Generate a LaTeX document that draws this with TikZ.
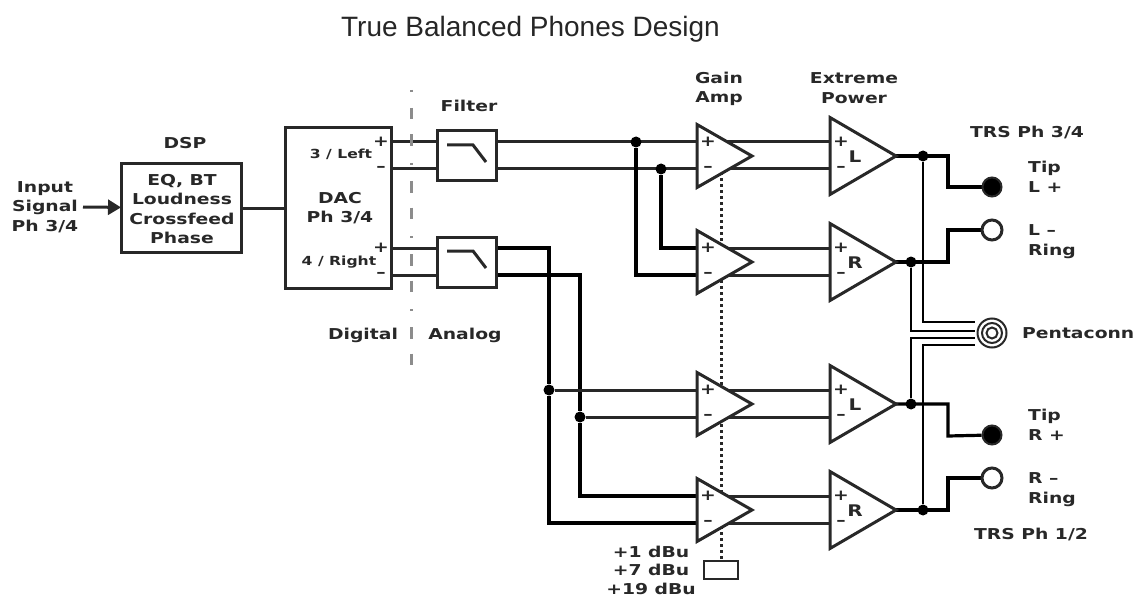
\documentclass[tikz,border=0pt]{standalone}
\usepackage{fontspec}
\setmainfont{DejaVu Sans}[FakeStretch=1.25]
\newfontfamily\titlefont{Liberation Sans}
\usetikzlibrary{shapes.geometric, arrows.meta, positioning, calc, backgrounds}
\definecolor{inkgray}{RGB}{40,40,40}
\definecolor{splitgray}{RGB}{140,140,140}

\begin{document}
\begin{tikzpicture}[
    x=1pt, y=-1pt,
    boxed/.style={draw=inkgray, line width=3pt, fill=white, inner sep=0pt, outer sep=0pt},
    dspbox/.style={boxed, minimum width=120pt, minimum height=88pt},
    dacbox/.style={boxed, minimum width=106pt, minimum height=160pt},
    filt/.style={boxed, minimum width=59pt, minimum height=50pt},
    gainbox/.style={boxed, line width=2.5pt, minimum width=34pt, minimum height=18pt},
    amp/.style={isosceles triangle, isosceles triangle stretches, shape border rotate=0, anchor=lower side,
      draw=inkgray, line width=3pt, fill=white, inner sep=0pt, outer sep=0pt},
    gainamp/.style={amp, minimum height=55pt, minimum width=63pt},
    poweramp/.style={amp, minimum height=66pt, minimum width=77pt},
    wire/.style={line width=3pt, draw=inkgray},
    heavy/.style={line width=3.2pt, draw=black},
    pent/.style={line width=2.5pt, draw=black},
    dotj/.style={circle, fill=black, inner sep=0pt, minimum size=11pt},
    tipj/.style={circle, fill=black, draw=inkgray, line width=2pt, inner sep=0pt, minimum size=19pt},
    ringj/.style={circle, fill=white, draw=inkgray, line width=3pt, inner sep=0pt, minimum size=20pt},
    cring/.style={circle, draw=inkgray, line width=2pt, inner sep=0pt},
    lbl/.style={font=\fontsize{15}{19.5}\selectfont\bfseries, text=inkgray, align=center, inner sep=0pt},
    lblsmall/.style={font=\fontsize{12.5}{13}\selectfont\bfseries, text=inkgray, inner sep=0pt},
    sign/.style={font=\fontsize{15}{15}\selectfont\bfseries, text=inkgray, inner sep=0pt},
  ]
  \useasboundingbox (0,0) rectangle (1134,596);
  \node[font=\fontsize{28}{32}\selectfont\titlefont, text=black!85] (title) at (530.5,29) {True Balanced Phones Design};
  % left blocks
  \node[dspbox] (dsp) at (181,208) {};
  \node[dacbox] (dac) at (338,208) {};
  \node[filt] (f1) at (466.5,156) {};
  \node[filt] (f2) at (466.5,262) {};
  \node[lbl] (lin) at (45,207) {Input\\Signal\\Ph 3/4};
  \node[lbl] (ldsp) at (182,209) {EQ, BT\\Loudness\\Crossfeed\\Phase};
  \node[lbl] (tdsp) at (185,143) {DSP};
  \node[lbl] (ldac) at (340,208) {DAC\\Ph 3/4};
  \node[lbl] (tfilt) at (469,106) {Filter};
  \node[lblsmall] (l3) at (341,154) {3 / Left};
  \node[lblsmall] (l4) at (339,262) {4 / Right};
  \foreach \nm/\yy/\tx in {sa/142/+,sb/169/–,sc/248/+,sd/275/–}
    \node[sign] (\nm) at (381,\yy) {\tx};
  \node[lbl] (ldig) at (363,335) {Digital};
  \node[lbl] (lana) at (465,335) {Analog};
  % amps
  \foreach \nm/\cy/\ch in {a/156/L,b/262/R,c/404/L,d/510/R}{
    \node[gainamp] (g\nm) at (697,\cy) {};
    \node[poweramp] (p\nm) at (830,\cy) {};
    \coordinate (g\nm p) at (697,\cy-14);
    \coordinate (g\nm m) at (697,\cy+13);
    \coordinate (p\nm p) at (830,\cy-14);
    \coordinate (p\nm m) at (830,\cy+13);
    \node[sign] (gs\nm p) at (708,\cy-14) {+};
    \node[sign] (gs\nm m) at (708,\cy+13) {–};
    \node[sign] (ps\nm p) at (841,\cy-14) {+};
    \node[sign] (ps\nm m) at (841,\cy+13) {–};
    \node[lbl, font=\fontsize{16}{16}\selectfont\bfseries] (ch\nm) at (855,\cy+1) {\ch};
  }
  \node[lbl] (tgain) at (719,89) {Gain\\Amp};
  \node[lbl] (tpow) at (854,88) {Extreme\\Power};
  % outputs
  \node[tipj] (tipl) at (992,187) {};
  \node[ringj] (ringl) at (992,230) {};
  \node[tipj] (tipr) at (992,435) {};
  \node[ringj] (ringr) at (992,478) {};
  \foreach \nm/\sz in {pca/29,pcb/20,pcc/11}
    \node[cring, minimum size=\sz pt] (\nm) at (992,333) {};
  \node[lbl] (ttop) at (1027,132) {TRS Ph 3/4};
  \node[lbl] (tbot) at (1031,534) {TRS Ph 1/2};
  \node[lbl, align=left, anchor=west] (ltl) at (1028,177) {Tip\\L +};
  \node[lbl, align=left, anchor=west] (lrl) at (1028,241.5) {L –\\Ring};
  \node[lbl, align=left, anchor=west] (ltr) at (1028,425) {Tip\\R +};
  \node[lbl, align=left, anchor=west] (lrr) at (1028,489.5) {R –\\Ring};
  \node[lbl, anchor=west] (lpc) at (1022,333) {Pentaconn};
  \node[gainbox] (gsw) at (721,570) {};
  \node[lbl, font=\fontsize{15}{18.5}\selectfont\bfseries] (ldbu) at (651,570) {+1 dBu\\+7 dBu\\+19 dBu};
  \node[dotj] (ja) at (636,142) {};
  \node[dotj] (jb) at (661,169) {};
  \node[dotj] (jc) at (549,390) {};
  \node[dotj] (jd) at (580,417) {};
  \node[dotj] (je) at (923,156) {};
  \node[dotj] (jf) at (911,262) {};
  \node[dotj] (jg) at (911,404) {};
  \node[dotj] (jh) at (923,510) {};
  \begin{pgfonlayer}{background}
    \draw[line width=3pt, dash pattern=on 3pt off 3pt, draw=inkgray] (721,172) -- (gsw.north);
    \draw[wire] (dsp) -- (dac);
    \draw[wire] (dac.east |- sa) -- (pap);
    \draw[wire] (dac.east |- sb) -- (pam);
    \draw[heavy] (ja) |- (gbm);
    \draw[heavy] (jb) |- (gbp);
    \draw[wire] (gbp) -- (pbp);
    \draw[wire] (gbm) -- (pbm);
    \draw[wire] (dac.east |- sc) -- (f2.west |- sc);
    \draw[wire] (dac.east |- sd) -- (f2.west |- sd);
    \draw[heavy] (f2.east |- sc) -| (jc) |- (gdm);
    \draw[heavy] (f2.east |- sd) -| (jd) |- (gdp);
    \draw[wire] (jc) -- (pcp);
    \draw[wire] (jd) -- (pcm);
    \draw[wire] (gdp) -- (pdp);
    \draw[wire] (gdm) -- (pdm);
    \foreach \a/\b/\c in {pa/tipl/187,pb/ringl/230,pc/tipr/436,pd/ringr/478}
      \draw[heavy] (\a.apex) -| (948,\c) -- (\b);
    \draw[pent] (je) |- (975,322);
    \draw[pent] (jf) |- (975,331);
    \draw[pent] (jg) |- (975,338);
    \draw[pent] (jh) |- (975,345);
  \end{pgfonlayer}
  \draw[-{Triangle[length=13pt,width=15pt]}, wire] (83,207) -- (dsp);
  \foreach \nm/\yy in {f1/145,f2/251}
    \draw[line width=3pt, draw=inkgray] (\nm.west |- 0,\yy) ++(10,0) -- ++(26,0) -- ++(13,17);
  % digital / analog split
  \draw[draw=splitgray, line width=3pt, dash pattern=on 2pt off 16pt on 11.5pt off 15pt on 11.5pt off 17pt] (411.5,90) -- (411.5,366);
\end{tikzpicture}
\end{document}
